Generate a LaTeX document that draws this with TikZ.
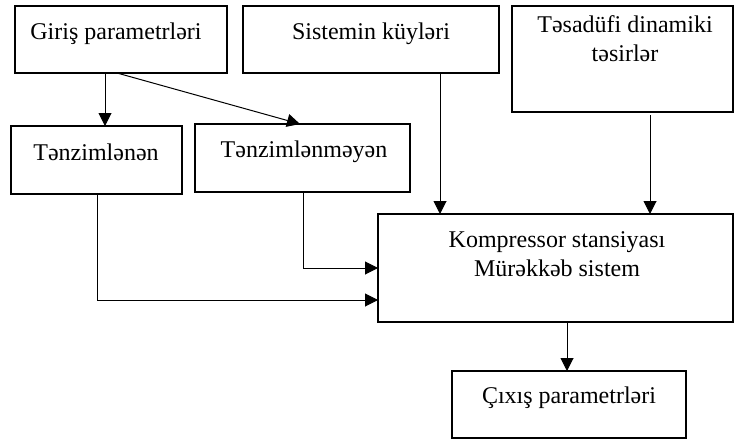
\documentclass[tikz,border=0pt]{standalone}
\usepackage{fontspec}
\setmainfont{Liberation Serif}
\usetikzlibrary{arrows.meta}
\begin{document}
\begin{tikzpicture}[x=1pt,y=-1pt,
  box/.style={draw, line width=1.5pt, inner sep=0pt, outer sep=0pt, anchor=north west},
  lbl/.style={font=\fontsize{24}{29}\selectfont, align=center, inner sep=0pt, anchor=base},
  arr/.style={-{Triangle[length=13pt,width=13pt]}, line width=1pt}]
\useasboundingbox (0,0) rectangle (735,441);
% boxes
\node[box, minimum width=212pt, minimum height=67pt] (gir) at (15,6) {};
\node[box, minimum width=256pt, minimum height=67pt] (sis) at (243,6) {};
\node[box, minimum width=221pt, minimum height=106pt] (tes) at (512,6) {};
\node[box, minimum width=171pt, minimum height=68pt] (tnz) at (11,126) {};
\node[box, minimum width=215pt, minimum height=68pt] (tnm) at (195,124) {};
\node[box, minimum width=355pt, minimum height=108pt] (kom) at (378,214) {};
\node[box, minimum width=234pt, minimum height=67pt] (cix) at (452,371) {};
% labels
\node[lbl] (girt) at (116,40) {Giriş parametrləri};
\node[lbl] (sist) at (371,40) {Sistemin küyləri};
\node[lbl] (test) at (625,62) {Təsadüfi dinamiki\\təsirlər};
\node[lbl] (tnzt) at (96,160) {Tənzimlənən};
\node[lbl] (tnmt) at (304,157) {Tənzimlənməyən};
\node[lbl] (komt) at (557,276) {Kompressor stansiyası\\Mürəkkəb sistem};
\node[lbl] (cixt) at (569,403) {Çıxış parametrləri};
% connectors
\draw[arr] (105,0 |- gir.south) -- (105,0 |- tnz.north);
\draw[arr] (117,0 |- gir.south) -- (300,0 |- tnm.north);
\draw[arr] (440,0 |- sis.south) -- (440,0 |- kom.north);
\coordinate (tesout) at (650,115);
\draw[arr] (tesout) -- (tesout |- kom.north);
\draw[arr] (303,0 |- tnm.south) |- (kom.west |- 0,268);
\draw[arr] (97,0 |- tnz.south) |- (kom.west |- 0,300);
\draw[arr] (567,0 |- kom.south) -- (567,0 |- cix.north);
\end{tikzpicture}
\end{document}
